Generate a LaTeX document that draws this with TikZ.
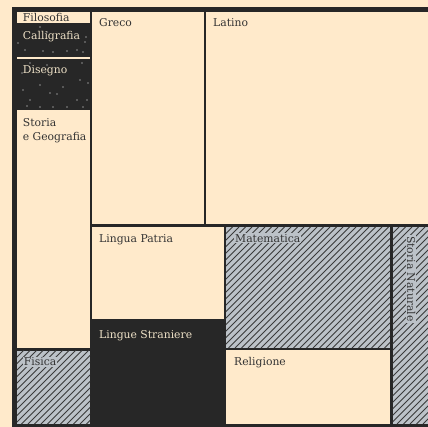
\documentclass[tikz,border=0pt]{standalone}
\usepackage{fontspec}
\setmainfont{DejaVu Serif}
\definecolor{cream}{HTML}{FFEACB}
\definecolor{ink}{HTML}{272727}
\definecolor{hatchgray}{HTML}{BCC2C8}
\definecolor{hatchline}{HTML}{3A3A3A}
\definecolor{txt}{HTML}{333333}
\definecolor{lighttxt}{HTML}{EFE2C8}
\tikzset{
  lbl/.style={anchor=base west, inner sep=0pt, font=\fontsize{10.8}{12}\selectfont, text=txt},
  dlbl/.style={lbl, text=lighttxt},
  hlbl/.style={lbl, fill=hatchgray, inner sep=1pt},
  star/.style={fill=white, draw=none}
}
\newcommand{\hatchrect}[4]{%
  \begin{scope}
    \clip (#1,#2) rectangle (#3,#4);
    \fill[hatchgray] (#1,#2) rectangle (#3,#4);
    \pgfmathsetmacro{\hh}{#4-#2}
    \pgfmathsetmacro{\xs}{#1-\hh}
    \pgfmathsetmacro{\xn}{#1-\hh+6.5}
    \foreach \xx in {\xs,\xn,...,#3} {
      \draw[hatchline, line width=0.8pt] (\xx,#4) -- ++(\hh,-\hh);
    }
  \end{scope}}
\begin{document}
\begin{tikzpicture}[x=1pt,y=-1pt]
\useasboundingbox (0,0) rectangle (428,427);
\fill[cream] (0,0) rectangle (428,427);
% dark frame / background
\fill[ink] (12,7) rectangle (428,427);
% light cells
\fill[cream] (17,12) rectangle (90,23);
\fill[cream] (17,57) rectangle (90,59.3);
\fill[cream] (17,110) rectangle (90,348);
\fill[cream] (92,12) rectangle (204,224.5);
\fill[cream] (206,12) rectangle (428,224.5);
\fill[cream] (92,227) rectangle (223.5,319);
\fill[cream] (226,350) rectangle (390,424);
% hatched cells
\hatchrect{17}{350.5}{90}{424}
\hatchrect{226}{227}{390}{348}
\hatchrect{392.5}{227}{428}{424}
% stars
\foreach \p in {(18,43),(85,42),(25,50),(43,51),(53,52),(67,51),(77,50),(83,52),(40,27),(47,32),(86,37),
  (82,63),(22,73),(80,80),(88,83),(40,85),(23,90),(50,93),(57,94),(30,100),(77,100),(87,100),
  (27,106),(40,107),(53,107),(67,107),(83,107),(47,65),(30,63),(63,87)}
  \fill[star] \p circle (0.7);
% labels
\node[lbl] (filosofia) at (22.7,21.3) {Filosofia};
\node[dlbl] (calligrafia) at (22.7,40) {Calligrafia};
\node[dlbl] (disegno) at (22.7,74) {Disegno};
\node[lbl] (storia) at (22.7,126.7) {Storia};
\node[lbl] (geografia) at (22.7,140.5) {e Geografia};
\node[hlbl] (fisica) at (22.7,365.7) {Fisica};
\node[lbl] (greco) at (99,26.5) {Greco};
\node[lbl] (latino) at (213,26.5) {Latino};
\node[lbl] (patria) at (99,242.7) {Lingua Patria};
\node[dlbl] (straniere) at (99,338.3) {Lingue Straniere};
\node[hlbl] (matematica) at (234,242.3) {Matematica};
\node[lbl] (religione) at (234,365.7) {Religione};
\node[hlbl, rotate=-90] (naturale) at (407,235) {Storia Naturale};
\end{tikzpicture}
\end{document}
